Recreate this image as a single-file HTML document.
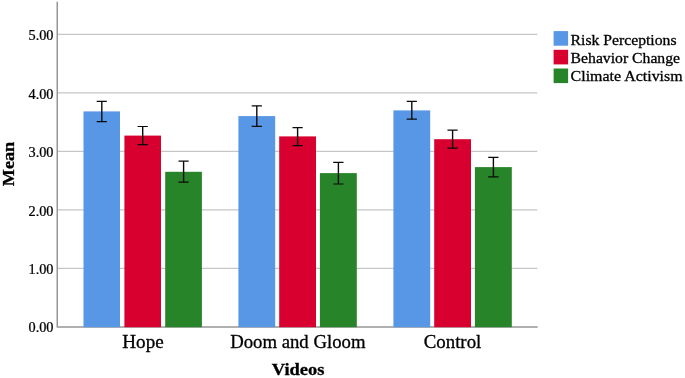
<!DOCTYPE html>
<html><head><meta charset="utf-8"><title>Chart</title>
<style>
html,body{margin:0;padding:0;background:#fff;}
svg{display:block;filter:blur(0.45px);}
text{font-family:"Liberation Serif",serif;fill:#000;stroke:#000;}
</style></head><body>
<svg width="685" height="378" viewBox="0 0 685 378">
<rect width="685" height="378" fill="#ffffff"/>
<line x1="57.25" x2="537.3" y1="268.3" y2="268.3" stroke="#c6c6c6" stroke-width="1.3"/>
<line x1="57.25" x2="537.3" y1="209.8" y2="209.8" stroke="#c6c6c6" stroke-width="1.3"/>
<line x1="57.25" x2="537.3" y1="151.3" y2="151.3" stroke="#c6c6c6" stroke-width="1.3"/>
<line x1="57.25" x2="537.3" y1="92.8" y2="92.8" stroke="#c6c6c6" stroke-width="1.3"/>
<line x1="57.25" x2="537.3" y1="34.3" y2="34.3" stroke="#c6c6c6" stroke-width="1.3"/>
<path d="M57.25 1.8V327.05H537.7" stroke="#969696" stroke-width="1.5" fill="none" stroke-linejoin="round"/>
<rect x="83.5" y="111.4" width="36.5" height="215.8" fill="#5896e6"/>
<rect x="124.4" y="135.6" width="36.6" height="191.6" fill="#d7002f"/>
<rect x="165.2" y="171.8" width="36.7" height="155.4" fill="#288428"/>
<rect x="238.4" y="116.1" width="36.8" height="211.1" fill="#5896e6"/>
<rect x="279.2" y="136.4" width="36.8" height="190.8" fill="#d7002f"/>
<rect x="319.9" y="173.1" width="36.9" height="154.1" fill="#288428"/>
<rect x="393.4" y="110.4" width="36.8" height="216.8" fill="#5896e6"/>
<rect x="434.2" y="139.2" width="36.8" height="188.0" fill="#d7002f"/>
<rect x="474.9" y="167.1" width="36.9" height="160.1" fill="#288428"/>
<path d="M96.7 101.3H106.8M96.7 121.7H106.8" stroke="#0a0a0a" stroke-width="1.2" fill="none"/><path d="M101.8 101.3V121.7" stroke="#0a0a0a" stroke-width="1.4" fill="none"/>
<path d="M137.6 126.5H147.8M137.6 144.7H147.8" stroke="#0a0a0a" stroke-width="1.2" fill="none"/><path d="M142.7 126.5V144.7" stroke="#0a0a0a" stroke-width="1.4" fill="none"/>
<path d="M178.5 161.2H188.7M178.5 182.1H188.7" stroke="#0a0a0a" stroke-width="1.2" fill="none"/><path d="M183.6 161.2V182.1" stroke="#0a0a0a" stroke-width="1.4" fill="none"/>
<path d="M251.7 105.8H261.9M251.7 126.3H261.9" stroke="#0a0a0a" stroke-width="1.2" fill="none"/><path d="M256.8 105.8V126.3" stroke="#0a0a0a" stroke-width="1.4" fill="none"/>
<path d="M292.5 127.6H302.7M292.5 145.6H302.7" stroke="#0a0a0a" stroke-width="1.2" fill="none"/><path d="M297.6 127.6V145.6" stroke="#0a0a0a" stroke-width="1.4" fill="none"/>
<path d="M333.2 162.3H343.5M333.2 184.0H343.5" stroke="#0a0a0a" stroke-width="1.2" fill="none"/><path d="M338.4 162.3V184.0" stroke="#0a0a0a" stroke-width="1.4" fill="none"/>
<path d="M406.7 101.4H416.9M406.7 119.2H416.9" stroke="#0a0a0a" stroke-width="1.2" fill="none"/><path d="M411.8 101.4V119.2" stroke="#0a0a0a" stroke-width="1.4" fill="none"/>
<path d="M447.5 130.1H457.7M447.5 148.2H457.7" stroke="#0a0a0a" stroke-width="1.2" fill="none"/><path d="M452.6 130.1V148.2" stroke="#0a0a0a" stroke-width="1.4" fill="none"/>
<path d="M488.2 157.3H498.5M488.2 176.8H498.5" stroke="#0a0a0a" stroke-width="1.2" fill="none"/><path d="M493.4 157.3V176.8" stroke="#0a0a0a" stroke-width="1.4" fill="none"/>
<text transform="translate(53.5,332.1) scale(0.4463,0.4375)" font-size="32" stroke-width="0.571" text-anchor="end">0.00</text>
<text transform="translate(53.5,274.2) scale(0.4463,0.4375)" font-size="32" stroke-width="0.571" text-anchor="end">1.00</text>
<text transform="translate(53.5,215.7) scale(0.4463,0.4375)" font-size="32" stroke-width="0.571" text-anchor="end">2.00</text>
<text transform="translate(53.5,157.2) scale(0.4463,0.4375)" font-size="32" stroke-width="0.571" text-anchor="end">3.00</text>
<text transform="translate(53.5,98.7) scale(0.4463,0.4375)" font-size="32" stroke-width="0.571" text-anchor="end">4.00</text>
<text transform="translate(53.5,40.2) scale(0.4463,0.4375)" font-size="32" stroke-width="0.571" text-anchor="end">5.00</text>
<text transform="translate(143.0,347.6) scale(0.5972,0.5687)" font-size="32" stroke-width="0.527" text-anchor="middle">Hope</text>
<text transform="translate(297.8,347.6) scale(0.5858,0.5687)" font-size="32" stroke-width="0.527" text-anchor="middle">Doom and Gloom</text>
<text transform="translate(452.5,347.6) scale(0.5887,0.5687)" font-size="32" stroke-width="0.527" text-anchor="middle">Control</text>
<text transform="translate(298.1,375.1) scale(0.5775,0.5500)" font-size="32" stroke-width="0.545" text-anchor="middle" font-weight="bold">Videos</text>
<text transform="translate(14.2,164.0) rotate(-90) scale(0.5677,0.5437)" font-size="32" stroke-width="0.552" text-anchor="middle" font-weight="bold">Mean</text>
<rect x="553.6" y="31.1" width="14.5" height="14.6" fill="#5896e6"/>
<text transform="translate(570.6,44.5) scale(0.4907,0.4625)" font-size="32" stroke-width="0.649" text-anchor="start">Risk Perceptions</text>
<rect x="553.6" y="49.8" width="14.5" height="14.6" fill="#d7002f"/>
<text transform="translate(570.6,62.9) scale(0.4912,0.4625)" font-size="32" stroke-width="0.649" text-anchor="start">Behavior Change</text>
<rect x="553.6" y="68.5" width="14.5" height="14.6" fill="#288428"/>
<text transform="translate(570.6,81.2) scale(0.4990,0.4625)" font-size="32" stroke-width="0.649" text-anchor="start">Climate Activism</text>
</svg>
</body></html>
